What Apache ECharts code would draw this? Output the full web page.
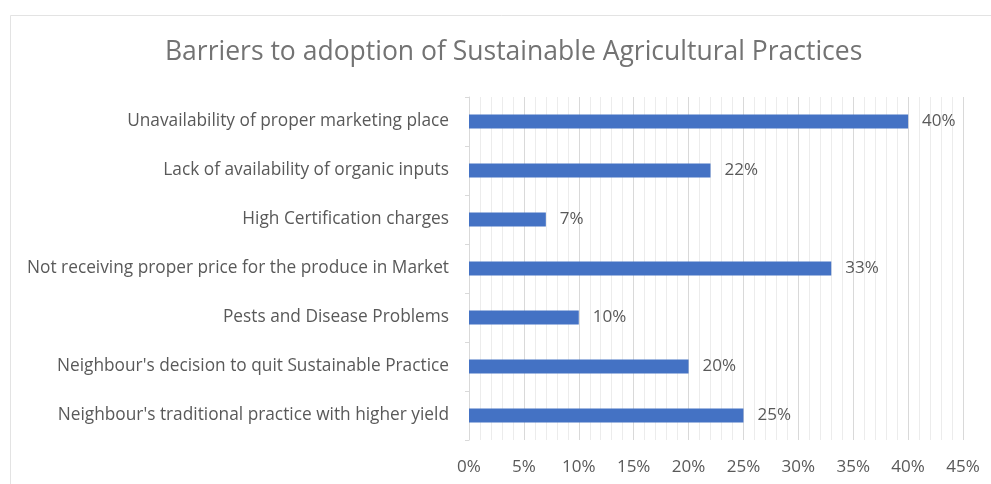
<!DOCTYPE html>
<html>
<head>
<meta charset="utf-8">
<script src="https://cdn.jsdelivr.net/npm/echarts@6/dist/echarts.min.js"></script>
<style>
html,body{margin:0;padding:0;background:#fff;}
#chart{width:991px;height:484px;}
</style>
</head>
<body>
<div id="chart"></div>
<script>
const titleText = 'Barriers to adoption of Sustainable Agricultural Practices';
const categories = [
  'Unavailability of proper marketing place',
  'Lack of availability of organic inputs',
  'High Certification charges',
  'Not receiving proper price for the produce in Market',
  'Pests and Disease Problems',
  "Neighbour's decision to quit Sustainable Practice",
  "Neighbour's traditional practice with higher yield"
];
const values = [40, 22, 7, 33, 10, 20, 25];
const axisMin = 0, axisMax = 45, axisStep = 5;

const chart = echarts.init(document.getElementById('chart'), null, {renderer: 'canvas'});
const font = '"Open Sans", "Liberation Sans", sans-serif';
chart.setOption({
  animation: false,
  backgroundColor: '#ffffff',
  graphic: [{
    type: 'rect',
    shape: {x: 10.5, y: 15.5, width: 1000, height: 500},
    style: {fill: 'none', stroke: '#e3e3e3', lineWidth: 1},
    silent: true,
    z: -10
  }],
  title: {
    text: titleText,
    left: 160,
    top: 34,
    textStyle: {fontFamily: font, fontSize: 26.5, fontWeight: 'normal', color: '#737373'}
  },
  grid: {left: 469, right: 28, top: 97, bottom: 44, containLabel: false},
  xAxis: {
    type: 'value',
    min: axisMin, max: axisMax, interval: axisStep,
    axisLine: {show: false},
    axisTick: {show: false},
    axisLabel: {formatter: '{value}%', fontFamily: font, fontSize: 17, color: '#595959', margin: 19},
    splitLine: {show: true, lineStyle: {color: '#d9d9d9', width: 1}},
    minorTick: {show: false, splitNumber: 5},
    minorSplitLine: {show: true, lineStyle: {color: '#ececec', width: 1}}
  },
  yAxis: {
    type: 'category',
    data: categories,
    inverse: true,
    axisLine: {show: true, lineStyle: {color: '#d9d9d9'}},
    axisTick: {show: true, length: 4, lineStyle: {color: '#d9d9d9'}},
    axisLabel: {fontFamily: font, fontSize: 17.3, color: '#595959', margin: 20}
  },
  series: [{
    type: 'bar',
    data: values,
    barWidth: 14,
    itemStyle: {color: '#4472c4'},
    label: {
      show: true, position: 'right', distance: 14,
      formatter: '{c}%', fontFamily: font, fontSize: 17, color: '#595959'
    }
  }]
});
</script>
</body>
</html>
